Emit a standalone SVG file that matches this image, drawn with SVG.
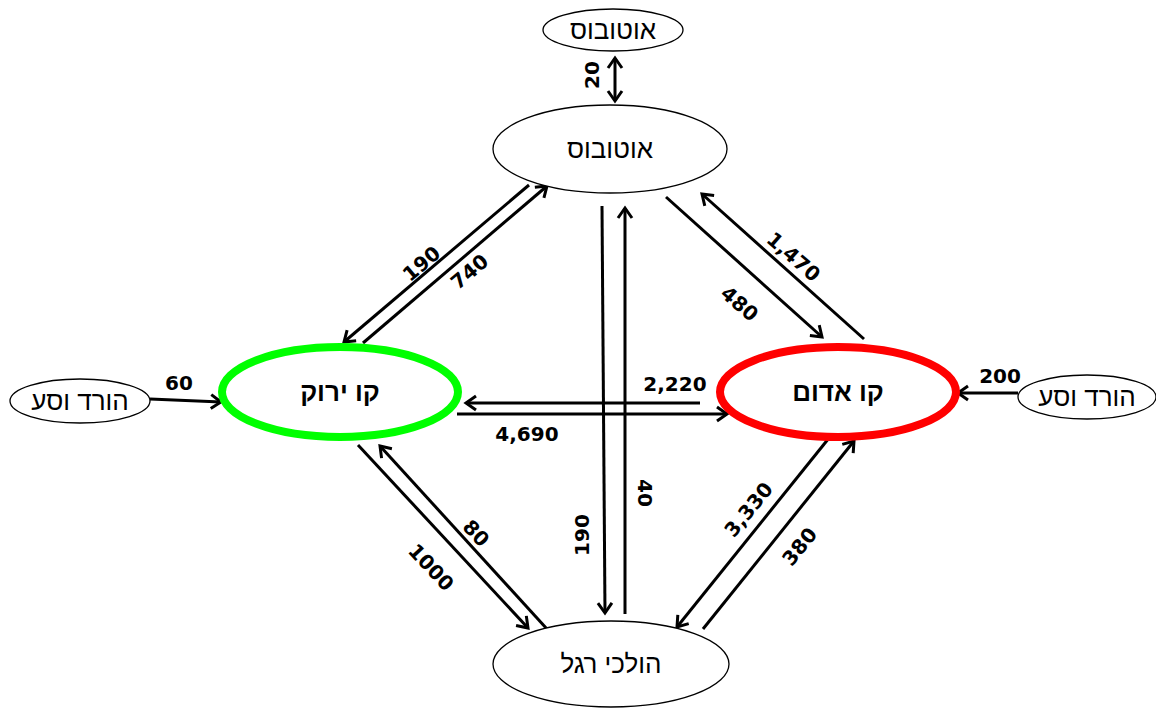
<svg xmlns="http://www.w3.org/2000/svg" width="1156" height="708" viewBox="0 0 1156 708">
  <style>
    .node { fill: #ffffff; stroke: #000000; stroke-width: 1.3; }
    .line-green { fill: #ffffff; stroke: #00ff00; stroke-width: 8; }
    .line-red { fill: #ffffff; stroke: #ff0000; stroke-width: 8; }
    .name { font-family: "Liberation Sans", "DejaVu Sans", sans-serif; font-size: 26px; fill: #000; text-anchor: middle; }
    .name-bold { font-weight: bold; }
    .flow { fill: none; stroke: #000; stroke-width: 3; }
    .num { font-family: "DejaVu Sans", "Liberation Sans", sans-serif; font-size: 20px; font-weight: bold; fill: #000; text-anchor: middle; }
  </style>
  <defs>
    <marker id="head" markerUnits="userSpaceOnUse" markerWidth="24" markerHeight="24" refX="12" refY="12" orient="auto" overflow="visible">
      <path d="M2,5 L12,12 L2,19" fill="none" stroke="#000" stroke-width="3"/>
    </marker>
    <marker id="tail" markerUnits="userSpaceOnUse" markerWidth="24" markerHeight="24" refX="12" refY="12" orient="auto-start-reverse" overflow="visible">
      <path d="M2,5 L12,12 L2,19" fill="none" stroke="#000" stroke-width="3"/>
    </marker>
  </defs>

  <rect width="1156" height="708" fill="#ffffff"/>

  <!-- connectors -->
  <g id="connectors">
    <line class="flow" x1="615" y1="58" x2="615" y2="101" marker-start="url(#tail)" marker-end="url(#head)"/>
    <text class="num" transform="translate(599,75) rotate(-90)">20</text>

    <!-- bus <-> green line -->
    <line class="flow" x1="529" y1="185" x2="344" y2="342" marker-end="url(#head)"/>
    <line class="flow" x1="363" y1="343" x2="547" y2="186" marker-end="url(#head)"/>
    <text class="num" transform="translate(426,269) rotate(-40)">190</text>
    <text class="num" transform="translate(474,277) rotate(-40)">740</text>

    <!-- bus <-> red line -->
    <line class="flow" x1="666" y1="197" x2="822" y2="337" marker-end="url(#head)"/>
    <line class="flow" x1="864" y1="339" x2="702" y2="194" marker-end="url(#head)"/>
    <text class="num" transform="translate(735,309) rotate(41)">480</text>
    <text class="num" transform="translate(789,262) rotate(41)">1,470</text>

    <!-- green <-> red line -->
    <line class="flow" x1="700" y1="403" x2="466" y2="403" marker-end="url(#head)"/>
    <line class="flow" x1="457" y1="414" x2="727" y2="414" marker-end="url(#head)"/>
    <text class="num" x="675" y="391">2,220</text>
    <text class="num" x="527" y="441">4,690</text>

    <!-- park and ride -->
    <line class="flow" x1="150" y1="399" x2="221" y2="402" marker-end="url(#head)"/>
    <text class="num" x="179" y="390">60</text>
    <line class="flow" x1="1018" y1="393" x2="958" y2="393" marker-end="url(#head)"/>
    <text class="num" x="1000" y="383">200</text>

    <!-- bus <-> pedestrians -->
    <line class="flow" x1="602" y1="206" x2="605" y2="613" marker-end="url(#head)"/>
    <line class="flow" x1="625" y1="614" x2="625" y2="208" marker-end="url(#head)"/>
    <text class="num" transform="translate(589,535) rotate(-90)">190</text>
    <text class="num" transform="translate(638,493) rotate(90)">40</text>

    <!-- green <-> pedestrians -->
    <line class="flow" x1="358" y1="445" x2="528" y2="628" marker-end="url(#head)"/>
    <line class="flow" x1="547" y1="629" x2="380" y2="446" marker-end="url(#head)"/>
    <text class="num" transform="translate(426,572) rotate(47)">1000</text>
    <text class="num" transform="translate(471,538) rotate(47)">80</text>

    <!-- red <-> pedestrians -->
    <line class="flow" x1="829" y1="438" x2="677" y2="627" marker-end="url(#head)"/>
    <line class="flow" x1="703" y1="629" x2="854" y2="441" marker-end="url(#head)"/>
    <text class="num" transform="translate(754,514) rotate(-51)">3,330</text>
    <text class="num" transform="translate(805,551) rotate(-51)">380</text>
  </g>

  <g id="bus-top">
    <ellipse class="node" cx="613" cy="30" rx="70" ry="21"/>
    <text class="name" x="613" y="39">אוטובוס</text>
  </g>

  <g id="bus">
    <ellipse class="node" cx="610" cy="149" rx="117" ry="44"/>
    <text class="name" x="610" y="158">אוטובוס</text>
  </g>

  <g id="green-line">
    <ellipse class="line-green" cx="340" cy="392" rx="118" ry="45"/>
    <text class="name name-bold" x="340" y="401">קו ירוק</text>
  </g>

  <g id="red-line">
    <ellipse class="line-red" cx="838" cy="392" rx="118" ry="45"/>
    <text class="name name-bold" x="838" y="401">קו אדום</text>
  </g>

  <g id="park-ride-left">
    <ellipse class="node" cx="80" cy="401" rx="70" ry="22"/>
    <text class="name" x="80" y="410">הורד וסע</text>
  </g>

  <g id="park-ride-right">
    <ellipse class="node" cx="1087" cy="397" rx="69" ry="22"/>
    <text class="name" x="1087" y="406">הורד וסע</text>
  </g>

  <g id="pedestrians">
    <ellipse class="node" cx="611" cy="664" rx="118" ry="43"/>
    <text class="name" x="611" y="673">הולכי רגל</text>
  </g>
</svg>
